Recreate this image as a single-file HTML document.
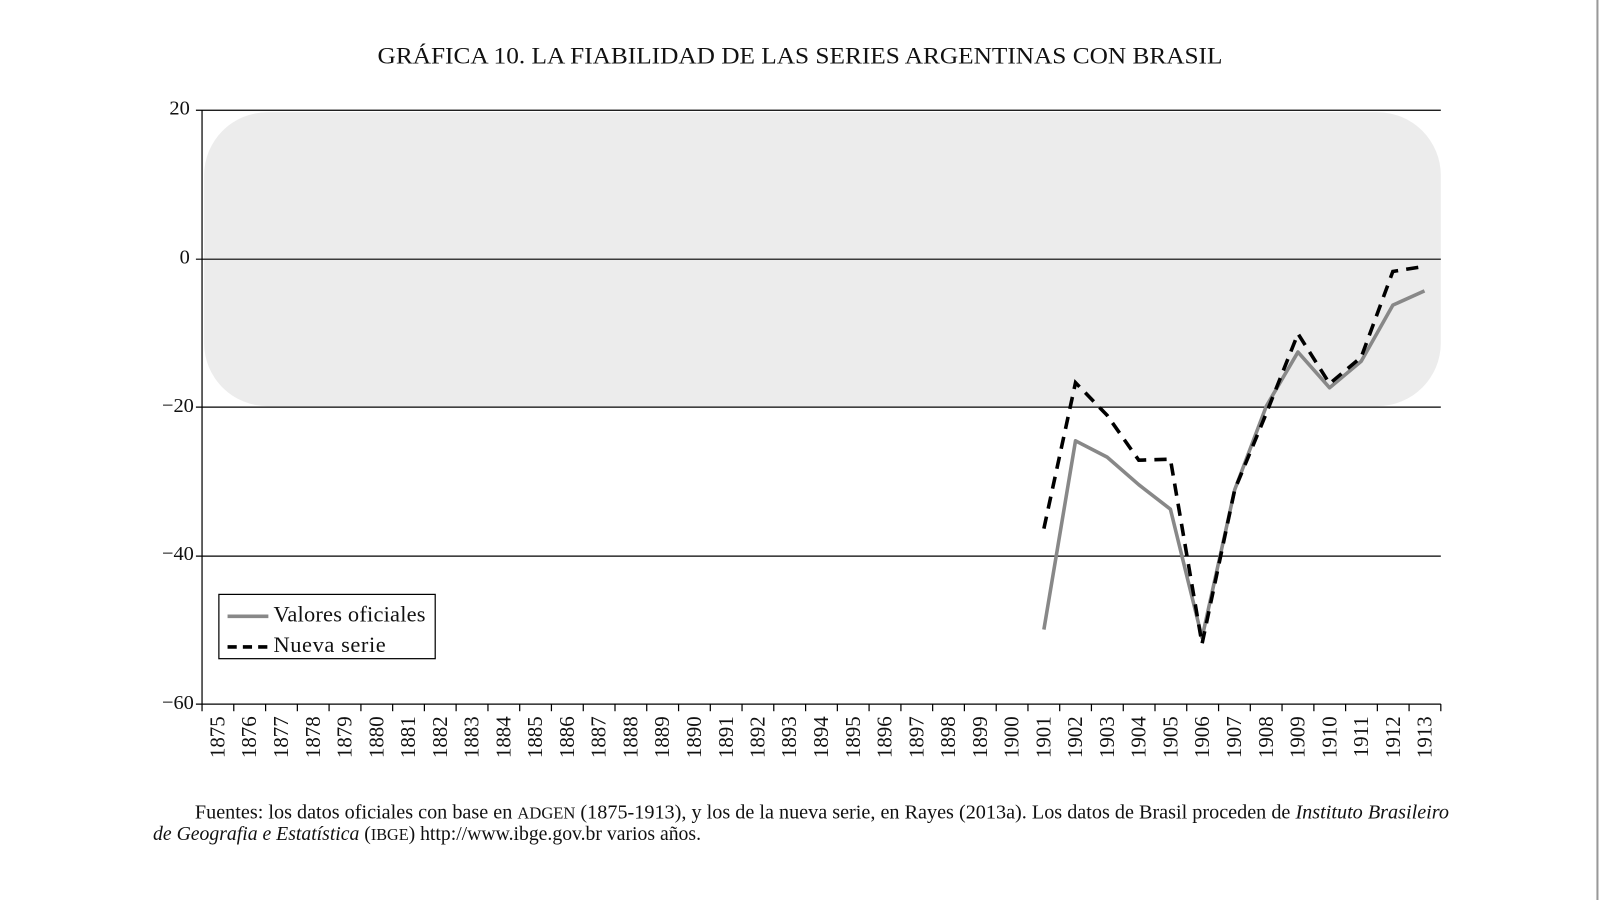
<!DOCTYPE html>
<html><head><meta charset="utf-8"><style>
body{margin:0;background:#fff;width:1600px;height:900px;overflow:hidden;font-family:"Liberation Serif",serif}
</style></head><body>
<svg width="1600" height="900" viewBox="0 0 1568 882" preserveAspectRatio="none" xmlns="http://www.w3.org/2000/svg" font-family="Liberation Serif, serif">
<line x1="1565.5" y1="0" x2="1565.5" y2="882" stroke="#999" stroke-width="2"/>
<text x="370" y="62" font-size="23" fill="#111" textLength="828" lengthAdjust="spacingAndGlyphs">GRÁFICA 10. LA FIABILIDAD DE LAS SERIES ARGENTINAS CON BRASIL</text>
<rect x="200" y="110" width="1212" height="288" rx="62" ry="62" fill="#ececec"/>
<g stroke="#000" stroke-width="1.2">
<line x1="192" y1="108" x2="1412" y2="108"/>
<line x1="192" y1="254" x2="1412" y2="254"/>
<line x1="192" y1="399" x2="1412" y2="399"/>
<line x1="192" y1="545" x2="1412" y2="545"/>
<line x1="192" y1="690" x2="1412" y2="690"/>
<line x1="198" y1="108" x2="198" y2="697"/>
</g>
<g font-size="20" text-anchor="end" fill="#111">
<text x="186" y="112">20</text><text x="186" y="258">0</text><text x="190" y="404">−20</text><text x="190" y="549">−40</text><text x="190" y="695">−60</text>
</g>
<g stroke="#000" stroke-width="1.2">
<line x1="229.1" y1="690" x2="229.1" y2="697"/><line x1="260.3" y1="690" x2="260.3" y2="697"/><line x1="291.4" y1="690" x2="291.4" y2="697"/><line x1="322.5" y1="690" x2="322.5" y2="697"/><line x1="353.7" y1="690" x2="353.7" y2="697"/><line x1="384.8" y1="690" x2="384.8" y2="697"/><line x1="415.9" y1="690" x2="415.9" y2="697"/><line x1="447" y1="690" x2="447" y2="697"/><line x1="478.2" y1="690" x2="478.2" y2="697"/><line x1="509.3" y1="690" x2="509.3" y2="697"/><line x1="540.4" y1="690" x2="540.4" y2="697"/><line x1="571.6" y1="690" x2="571.6" y2="697"/><line x1="602.7" y1="690" x2="602.7" y2="697"/><line x1="633.8" y1="690" x2="633.8" y2="697"/><line x1="665" y1="690" x2="665" y2="697"/><line x1="696.1" y1="690" x2="696.1" y2="697"/><line x1="727.2" y1="690" x2="727.2" y2="697"/><line x1="758.3" y1="690" x2="758.3" y2="697"/><line x1="789.5" y1="690" x2="789.5" y2="697"/><line x1="820.6" y1="690" x2="820.6" y2="697"/><line x1="851.7" y1="690" x2="851.7" y2="697"/><line x1="882.9" y1="690" x2="882.9" y2="697"/><line x1="914" y1="690" x2="914" y2="697"/><line x1="945.1" y1="690" x2="945.1" y2="697"/><line x1="976.3" y1="690" x2="976.3" y2="697"/><line x1="1007.4" y1="690" x2="1007.4" y2="697"/><line x1="1038.5" y1="690" x2="1038.5" y2="697"/><line x1="1069.6" y1="690" x2="1069.6" y2="697"/><line x1="1100.8" y1="690" x2="1100.8" y2="697"/><line x1="1131.9" y1="690" x2="1131.9" y2="697"/><line x1="1163" y1="690" x2="1163" y2="697"/><line x1="1194.2" y1="690" x2="1194.2" y2="697"/><line x1="1225.3" y1="690" x2="1225.3" y2="697"/><line x1="1256.4" y1="690" x2="1256.4" y2="697"/><line x1="1287.6" y1="690" x2="1287.6" y2="697"/><line x1="1318.7" y1="690" x2="1318.7" y2="697"/><line x1="1349.8" y1="690" x2="1349.8" y2="697"/><line x1="1380.9" y1="690" x2="1380.9" y2="697"/><line x1="1412" y1="690" x2="1412" y2="697"/>
</g>
<g font-size="20.5" text-anchor="end" fill="#111">
<text transform="translate(220,702) rotate(-90)">1875</text>
<text transform="translate(251.1,702) rotate(-90)">1876</text>
<text transform="translate(282.3,702) rotate(-90)">1877</text>
<text transform="translate(313.4,702) rotate(-90)">1878</text>
<text transform="translate(344.5,702) rotate(-90)">1879</text>
<text transform="translate(375.7,702) rotate(-90)">1880</text>
<text transform="translate(406.8,702) rotate(-90)">1881</text>
<text transform="translate(437.9,702) rotate(-90)">1882</text>
<text transform="translate(469,702) rotate(-90)">1883</text>
<text transform="translate(500.2,702) rotate(-90)">1884</text>
<text transform="translate(531.3,702) rotate(-90)">1885</text>
<text transform="translate(562.4,702) rotate(-90)">1886</text>
<text transform="translate(593.6,702) rotate(-90)">1887</text>
<text transform="translate(624.7,702) rotate(-90)">1888</text>
<text transform="translate(655.8,702) rotate(-90)">1889</text>
<text transform="translate(687,702) rotate(-90)">1890</text>
<text transform="translate(718.1,702) rotate(-90)">1891</text>
<text transform="translate(749.2,702) rotate(-90)">1892</text>
<text transform="translate(780.3,702) rotate(-90)">1893</text>
<text transform="translate(811.5,702) rotate(-90)">1894</text>
<text transform="translate(842.6,702) rotate(-90)">1895</text>
<text transform="translate(873.7,702) rotate(-90)">1896</text>
<text transform="translate(904.9,702) rotate(-90)">1897</text>
<text transform="translate(936,702) rotate(-90)">1898</text>
<text transform="translate(967.1,702) rotate(-90)">1899</text>
<text transform="translate(998.3,702) rotate(-90)">1900</text>
<text transform="translate(1029.4,702) rotate(-90)">1901</text>
<text transform="translate(1060.5,702) rotate(-90)">1902</text>
<text transform="translate(1091.6,702) rotate(-90)">1903</text>
<text transform="translate(1122.8,702) rotate(-90)">1904</text>
<text transform="translate(1153.9,702) rotate(-90)">1905</text>
<text transform="translate(1185,702) rotate(-90)">1906</text>
<text transform="translate(1216.2,702) rotate(-90)">1907</text>
<text transform="translate(1247.3,702) rotate(-90)">1908</text>
<text transform="translate(1278.4,702) rotate(-90)">1909</text>
<text transform="translate(1309.6,702) rotate(-90)">1910</text>
<text transform="translate(1340.7,702) rotate(-90)">1911</text>
<text transform="translate(1371.8,702) rotate(-90)">1912</text>
<text transform="translate(1402.9,702) rotate(-90)">1913</text>
</g>
<polyline fill="none" stroke="#888" stroke-width="3.5" stroke-linejoin="round" points="1023,617 1054,432 1085,448 1116,475 1147,499 1178,625 1210,480 1241,398 1272,345 1303,380 1334,354 1365,299 1396,285"/>
<polyline fill="none" stroke="#000" stroke-width="3.5" stroke-dasharray="12,8" points="1023,518 1054,375 1085,407 1116,451 1147,450 1178,631 1210,480 1241,405 1272,327 1303,376 1334,350 1365,266 1396,261"/>
<rect x="214.5" y="582.5" width="212" height="63" fill="#fff" stroke="#000" stroke-width="1.2"/>
<line x1="223" y1="604" x2="263" y2="604" stroke="#888" stroke-width="3.5"/>
<line x1="223" y1="634" x2="263" y2="634" stroke="#000" stroke-width="3.5" stroke-dasharray="9,6"/>
<text x="268" y="609" textLength="149" font-size="22" fill="#111">Valores oficiales</text>
<text x="268" y="639" textLength="110" font-size="22" fill="#111">Nueva serie</text>
<text x="191" y="802" font-size="19.5" fill="#111" textLength="1229" lengthAdjust="spacingAndGlyphs">Fuentes: los datos oficiales con base en <tspan font-size="16">ADGEN</tspan> (1875-1913), y los de la nueva serie, en Rayes (2013a). Los datos de Brasil proceden de <tspan font-style="italic">Instituto Brasileiro</tspan></text>
<text x="150" y="823" font-size="19.5" fill="#111" textLength="537" lengthAdjust="spacingAndGlyphs"><tspan font-style="italic">de Geografia e Estatística</tspan> (<tspan font-size="16">IBGE</tspan>) http://www.ibge.gov.br varios años.</text>
</svg>
</body></html>
